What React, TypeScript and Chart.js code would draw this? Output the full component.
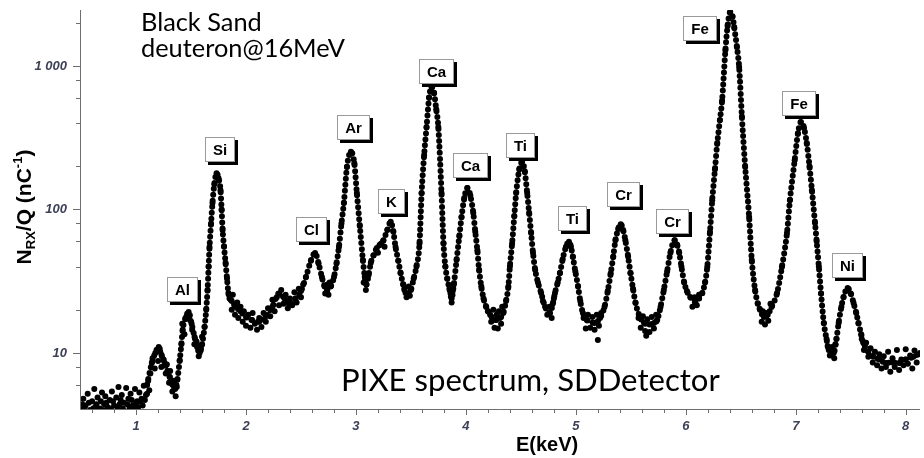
import React, { useEffect, useRef } from 'react';
import { Chart, registerables } from 'chart.js';

Chart.register(...registerables);

// ---- main spectrum trace (E in keV, N/Q in nC^-1) ----
const energy = [
  1.10, 1.143, 1.175, 1.206, 1.235, 1.26, 1.285, 1.306, 1.33, 1.355,
  1.375, 1.397, 1.412, 1.424, 1.45, 1.478, 1.505, 1.532, 1.555, 1.578,
  1.60, 1.623, 1.638, 1.65, 1.66, 1.668, 1.682, 1.695, 1.712, 1.732,
  1.75, 1.768, 1.778, 1.787, 1.80, 1.814, 1.827, 1.84, 1.87, 1.91,
  1.95, 2.0, 2.05, 2.12, 2.18, 2.24, 2.30, 2.35, 2.39, 2.45,
  2.50, 2.545, 2.59, 2.628, 2.66, 2.69, 2.715, 2.737, 2.77, 2.80,
  2.823, 2.845, 2.868, 2.89, 2.918, 2.954, 2.985, 3.008, 3.035, 3.063,
  3.08, 3.095, 3.115, 3.135, 3.16, 3.19, 3.22, 3.25, 3.285, 3.316,
  3.34, 3.36, 3.385, 3.406, 3.43, 3.451, 3.475, 3.50, 3.525, 3.55,
  3.578, 3.597, 3.62, 3.642, 3.665, 3.687, 3.71, 3.73, 3.749, 3.778,
  3.796, 3.813, 3.83, 3.85, 3.87, 3.89, 3.915, 3.94, 3.96, 3.985,
  4.013, 4.04, 4.067, 4.085, 4.104, 4.12, 4.14, 4.16, 4.185, 4.22,
  4.27, 4.31, 4.34, 4.365, 4.386, 4.40, 4.42, 4.44, 4.457, 4.485,
  4.511, 4.535, 4.557, 4.575, 4.593, 4.61, 4.63, 4.655, 4.684, 4.72,
  4.765, 4.79, 4.81, 4.835, 4.855, 4.88, 4.91, 4.937, 4.955, 4.973,
  4.995, 5.02, 5.04, 5.064, 5.10, 5.17, 5.22, 5.26, 5.29, 5.317,
  5.34, 5.36, 5.385, 5.408, 5.43, 5.45, 5.475, 5.497, 5.52, 5.543,
  5.58, 5.62, 5.67, 5.71, 5.74, 5.77, 5.80, 5.83, 5.86, 5.897,
  5.92, 5.94, 5.96, 5.985, 6.01, 6.04, 6.086, 6.12, 6.15, 6.175,
  6.195, 6.22, 6.24, 6.265, 6.286, 6.31, 6.33, 6.36, 6.38, 6.404,
  6.425, 6.44, 6.465, 6.485, 6.51, 6.54, 6.576, 6.60, 6.63, 6.655,
  6.675, 6.71, 6.745, 6.78, 6.83, 6.874, 6.92, 6.947, 6.99, 7.02,
  7.047, 7.075, 7.10, 7.125, 7.147, 7.175, 7.19, 7.21, 7.23, 7.255,
  7.28, 7.30, 7.345, 7.37, 7.39, 7.415, 7.435, 7.472, 7.50, 7.526,
  7.55, 7.57, 7.595, 7.616, 7.66, 7.706, 7.76, 7.82, 7.88, 7.94,
  8.0, 8.07, 8.13,
];
const counts = [
  6.0, 8.5, 10, 11, 9.5, 8.5, 7.5, 6.8, 6.0, 5.6,
  6.5, 8.9, 11.5, 14.5, 17.5, 19.3, 16, 12.9, 11, 10,
  11.5, 15.2, 20, 27.5, 40, 54.7, 80, 111, 150, 179,
  165, 136, 100, 72, 55, 42.5, 33, 26.2, 23, 20.9,
  19.5, 17.8, 17, 16.5, 18, 21, 26, 24, 22, 24,
  27, 33.8, 44, 49.8, 42, 33.8, 29, 27.5, 29, 33.8,
  42, 54.7, 80, 111, 198, 252, 210, 130, 76.6, 44.4,
  34, 30, 35, 42.5, 48, 54, 57, 61, 72, 82,
  70, 54.7, 44, 36, 30, 26.2, 26, 27.5, 33, 40,
  58, 130, 240, 376, 600, 714, 650, 500, 376, 130,
  58, 40, 33, 28, 24, 30, 44.4, 65, 88.5, 120,
  141, 125, 94.5, 70, 52, 38, 29, 24, 20.9, 18.5,
  17, 17.5, 19, 23, 29, 40, 58, 90, 130, 190,
  214, 185, 130, 95, 68.5, 50, 37.9, 31, 26.2, 21,
  19, 22, 26.2, 31, 36, 45, 55, 59.5, 55, 46.6,
  37, 29, 23, 19, 17, 16.2, 17.5, 20.9, 27, 36,
  47, 61, 73, 79, 72, 61, 47, 36, 28, 22.3,
  18, 16.2, 15.8, 16.2, 17, 20.9, 27.5, 37, 50, 61,
  57, 50, 40, 31, 27, 24.6, 22.6, 24, 26.2, 31,
  39.7, 70, 116, 190, 290, 420, 575, 1285, 1900, 2377,
  2200, 1868, 1350, 984, 444, 198, 88.5, 44.4, 27.5, 22,
  20, 17.8, 18.5, 20.9, 26.2, 39.7, 68.5, 116, 220, 340,
  407, 370, 290, 200, 136, 80.5, 60, 40, 26, 16.2,
  12.5, 10.5, 10, 12.5, 16.2, 21, 24.6, 28.4, 26, 22.3,
  19, 16.2, 13.5, 11.7, 10.2, 9.4, 9, 8.5, 8.6, 8.5,
  9, 9.4, 10,
];

// ---- scattered (noisy) channels ----
const noiseEnergy = [
  0.50, 0.52, 0.54, 0.56, 0.58, 0.60, 0.62, 0.63, 0.65, 0.67,
  0.69, 0.71, 0.72, 0.74, 0.76, 0.78, 0.80, 0.82, 0.84, 0.85,
  0.87, 0.89, 0.91, 0.93, 0.95, 0.97, 0.99, 1.01, 1.03, 1.05,
  1.07, 1.09, 1.11, 1.13,
  0.51, 0.53, 0.57, 0.61, 0.64, 0.68, 0.70, 0.73, 0.77, 0.79,
  0.83, 0.86, 0.88, 0.92, 0.94, 0.96, 0.98, 1.00, 1.02, 1.04,
  1.06, 1.08, 1.10, 1.12,
  1.15, 1.17, 1.19, 1.20, 1.22, 1.23, 1.25, 1.27, 1.28, 1.30,
  1.31, 1.33, 1.34, 1.36, 1.37,
  1.42, 1.44, 1.46, 1.49, 1.51, 1.53, 1.55, 1.57, 1.59, 1.60,
  1.85, 1.87, 1.88, 1.90, 1.92, 1.93, 1.95, 1.97, 1.98, 2.00,
  2.02, 2.04, 2.06, 2.08, 2.10, 2.12, 2.14, 2.16, 2.18, 2.20,
  2.22, 2.24, 2.26, 2.28, 2.30, 2.32, 2.34, 2.36, 2.38, 2.40,
  2.42, 2.44, 2.46, 2.48, 2.50, 2.52,
  2.72, 2.74, 2.75, 2.76,
  3.07, 3.09, 3.10,
  3.20, 3.23, 3.26, 3.44, 3.46, 3.48, 3.49,
  3.86, 3.87, 3.88,
  4.20, 4.23, 4.25, 4.26, 4.28, 4.29, 4.30, 4.32, 4.33,
  4.70, 4.74, 4.76, 4.78, 4.80,
  5.07, 5.09, 5.11, 5.13, 5.15, 5.17, 5.19, 5.21, 5.23, 5.20,
  5.57, 5.59, 5.61, 5.63, 5.65, 5.67, 5.69, 5.71, 5.73, 5.64,
  6.06, 6.08, 6.10, 6.12,
  6.69, 6.70, 6.72, 6.73, 6.75, 6.77,
  7.29, 7.31, 7.33, 7.35, 7.36,
  7.60, 7.62, 7.64, 7.66, 7.68, 7.70, 7.72, 7.74, 7.76, 7.78,
  7.80, 7.82, 7.84, 7.86, 7.88, 7.90, 7.92, 7.94, 7.96, 7.98,
  8.00, 8.02, 8.04, 8.06, 8.08, 8.10, 8.12,
];
const noiseCounts = [
  4.1, 4.8, 4.3, 5.2, 4.0, 4.6, 5.6, 4.2, 4.9, 4.1,
  5.3, 4.4, 5.0, 4.2, 4.7, 5.4, 4.3, 4.9, 5.8, 4.4,
  5.1, 4.5, 5.7, 4.8, 5.2, 4.3, 5.6, 4.6, 5.3, 4.8,
  5.9, 5.1, 6.4, 7.2,
  4.4, 4.0, 4.5, 4.1, 4.4, 4.6, 4.0, 4.5, 4.1, 4.6,
  4.2, 4.7, 4.1, 4.4, 4.1, 4.7, 4.2, 4.5, 4.2, 4.6,
  4.3, 4.7, 5.2, 5.5,
  9.2, 7.8, 10.5, 8.8, 10.2, 8.0, 9.0, 7.2, 8.3, 6.2,
  7.5, 5.4, 6.4, 5.0, 5.8,
  16, 13.5, 18, 17, 14.5, 11.5, 12, 9.5, 10.8, 13,
  24, 20, 25.5, 18.5, 22.5, 17.5, 21, 16.5, 19.5, 15.5,
  18.5, 15, 19, 16, 14.5, 17.5, 15.2, 19, 16.5, 20.5,
  18, 23.5, 19.5, 24.5, 21.5, 27.5, 22, 25.5, 20.5, 24,
  21.5, 26.5, 22.5, 28, 24.5, 30,
  26, 30, 25.5, 31,
  31, 27.5, 33,
  50, 58, 55, 28, 24.5, 29, 25,
  26, 22.5, 27,
  19.5, 16.5, 20, 15, 18.5, 14.8, 19.5, 16, 21,
  23, 18.5, 21, 17.5, 24,
  17.5, 14.8, 18.5, 15, 17.8, 14.5, 18.5, 15.5, 19, 12.3,
  17.5, 15, 18, 14.2, 17.2, 14, 17.8, 14.8, 18.5, 13.2,
  21, 24.5, 21.5, 25.5,
  16.5, 19.5, 15.8, 19, 16.8, 22,
  11.2, 9.6, 11, 9.2, 11.5,
  12.5, 10.5, 11.8, 9.4, 10.8, 8.6, 10.2, 8.2, 9.8, 7.8,
  9.5, 8.0, 10.2, 7.4, 9.2, 8.0, 10.5, 7.6, 9.0, 8.2,
  10.6, 8.4, 9.6, 7.8, 10.4, 8.6, 9.8,
];

// ---- element labels (box centre in data units) ----
const peakNames = ['Al', 'Si', 'Cl', 'Ar', 'K', 'Ca', 'Ca', 'Ti', 'Ti', 'Cr', 'Cr', 'Fe', 'Fe', 'Ni'];
const peakLabelE = [1.424, 1.759, 2.592, 2.981, 3.325, 3.733, 4.041, 4.494, 4.973, 5.435, 5.879, 6.132, 7.028, 7.471];
const peakLabelY = [27.5, 260, 73, 370, 113, 908, 201, 281, 86, 128, 82, 1811, 552, 40.4];

// ---- axes ----
const xMajorTicks = [1, 2, 3, 4, 5, 6, 7, 8];
const xMinorTicks = [0.6, 0.8, 1.2, 1.4, 1.6, 1.8, 2.2, 2.4, 2.6, 2.8, 3.2, 3.4, 3.6, 3.8, 4.2, 4.4, 4.6, 4.8,
  5.2, 5.4, 5.6, 5.8, 6.2, 6.4, 6.6, 6.8, 7.2, 7.4, 7.6, 7.8];
const yMajorTicks = [10, 100, 1000];
const yMinorTicks = [6, 8, 20, 40, 60, 80, 200, 400, 600, 800, 2000];
const xRange = [0.49, 8.13];
const yRange = [4.07, 2455];

const SANS = '"Liberation Sans", Arial, sans-serif';
const AXIS_COLOR = '#6e6e6e';

const overlay = {
  id: 'overlay',
  afterDraw(chart: any) {
    const ctx: CanvasRenderingContext2D = chart.ctx;
    const xs = chart.scales.x;
    const ys = chart.scales.y;
    const a = chart.chartArea;
    ctx.save();

    // axis lines + tick marks
    ctx.strokeStyle = AXIS_COLOR;
    ctx.lineWidth = 1;
    ctx.beginPath();
    ctx.moveTo(a.left + 0.5, a.top);
    ctx.lineTo(a.left + 0.5, a.bottom + 0.5);
    ctx.lineTo(a.right, a.bottom + 0.5);
    for (const v of xMajorTicks) {
      const p = Math.round(xs.getPixelForValue(v)) + 0.5;
      ctx.moveTo(p, a.bottom); ctx.lineTo(p, a.bottom + 6);
    }
    for (const v of xMinorTicks) {
      const p = Math.round(xs.getPixelForValue(v)) + 0.5;
      ctx.moveTo(p, a.bottom); ctx.lineTo(p, a.bottom + 4);
    }
    for (const v of yMajorTicks) {
      const p = Math.round(ys.getPixelForValue(v)) + 0.5;
      ctx.moveTo(a.left, p); ctx.lineTo(a.left - 7, p);
    }
    for (const v of yMinorTicks) {
      const p = Math.round(ys.getPixelForValue(v)) + 0.5;
      ctx.moveTo(a.left, p); ctx.lineTo(a.left - 4, p);
    }
    ctx.stroke();

    // element label boxes
    ctx.font = `bold 15px ${SANS}`;
    ctx.textAlign = 'center';
    ctx.textBaseline = 'middle';
    peakNames.forEach((name, i) => {
      const cx = xs.getPixelForValue(peakLabelE[i]);
      const cy = ys.getPixelForValue(peakLabelY[i]);
      const w = Math.round(ctx.measureText(name).width + 16);
      const h = 25;
      const l = Math.round(cx - w / 2);
      const t = Math.round(cy - h / 2);
      ctx.fillStyle = '#000';
      ctx.fillRect(l + 3, t + 3, w, h);
      ctx.fillStyle = '#fff';
      ctx.fillRect(l, t, w, h);
      ctx.strokeStyle = '#9a9a9a';
      ctx.strokeRect(l + 0.5, t + 0.5, w - 1, h - 1);
      ctx.fillStyle = '#000';
      ctx.fillText(name, l + w / 2, t + h / 2 + 1);
    });

    // x title
    ctx.fillStyle = '#000';
    ctx.font = `bold 20px ${SANS}`;
    ctx.textAlign = 'center';
    ctx.textBaseline = 'middle';
    ctx.fillText('E(keV)', a.left + (a.right - a.left) * 0.556, a.bottom + 36);

    // y title with sub/superscript
    const parts = [
      { t: 'N', s: 21, dy: 0 },
      { t: 'RX', s: 13, dy: 4 },
      { t: '/Q (nC', s: 21, dy: 0 },
      { t: '-1', s: 13, dy: -9 },
      { t: ')', s: 21, dy: 0 },
    ];
    let total = 0;
    const widths = parts.map((p) => {
      ctx.font = `bold ${p.s}px ${SANS}`;
      const w = ctx.measureText(p.t).width;
      total += w;
      return w;
    });
    ctx.save();
    ctx.translate(24, 207);
    ctx.rotate(-Math.PI / 2);
    ctx.textAlign = 'left';
    ctx.textBaseline = 'alphabetic';
    let x = -total / 2;
    parts.forEach((p, i) => {
      ctx.font = `bold ${p.s}px ${SANS}`;
      ctx.fillText(p.t, x, 7 + p.dy);
      x += widths[i];
    });
    ctx.restore();

    // annotations
    const fam = 'Lato, "Open Sans", sans-serif';
    ctx.textAlign = 'left';
    ctx.textBaseline = 'alphabetic';
    ctx.font = `100px ${fam}`;
    const s1 = (100 * 204) / ctx.measureText('deuteron@16MeV').width;
    ctx.font = `${s1}px ${fam}`;
    ctx.fillText('Black Sand', a.left + 61, 31);
    ctx.fillText('deuteron@16MeV', a.left + 61, 57);
    ctx.font = `100px ${fam}`;
    const s2 = (100 * 379) / ctx.measureText('PIXE spectrum, SDDetector').width;
    ctx.font = `${s2}px ${fam}`;
    ctx.fillText('PIXE spectrum, SDDetector', a.left + 261, 391);

    ctx.restore();
  },
};

export default function App() {
  const ref = useRef<HTMLCanvasElement>(null);
  useEffect(() => {
    const curve = energy.map((e, i) => ({ x: e, y: counts[i] }));
    const noise = noiseEnergy.map((e, i) => ({ x: e, y: noiseCounts[i] }));
    const tickFont = { family: SANS, size: 13, weight: 'bold' as const, style: 'italic' as const };
    const chart = new Chart(ref.current as HTMLCanvasElement, {
      type: 'scatter',
      data: {
        datasets: [
          {
            data: noise,
            showLine: false,
            pointRadius: 3,
            pointBackgroundColor: '#000',
            pointBorderWidth: 0,
          },
          {
            data: curve,
            showLine: true,
            borderColor: '#000',
            borderWidth: 6,
            borderDash: [0, 6],
            borderCapStyle: 'round',
            cubicInterpolationMode: 'monotone',
            pointRadius: 3,
            pointBackgroundColor: '#000',
            pointBorderWidth: 0,
          } as any,
        ],
      },
      options: {
        animation: false,
        responsive: true,
        maintainAspectRatio: false,
        events: [],
        layout: { padding: { top: 10, right: 0, left: 0, bottom: 0 } },
        plugins: { legend: { display: false }, tooltip: { enabled: false } },
        scales: {
          x: {
            type: 'linear',
            min: xRange[0],
            max: xRange[1],
            grid: { display: false, drawTicks: false },
            border: { display: false },
            afterBuildTicks: (s: any) => { s.ticks = xMajorTicks.map((v) => ({ value: v })); },
            afterFit: (s: any) => { s.height = 49; s.paddingLeft = 0; s.paddingRight = 0; },
            ticks: { autoSkip: false, maxRotation: 0, padding: 10, color: '#3d4157', font: tickFont },
          },
          y: {
            type: 'logarithmic',
            min: yRange[0],
            max: yRange[1],
            grid: { display: false, drawTicks: false },
            border: { display: false },
            afterBuildTicks: (s: any) => { s.ticks = yMajorTicks.map((v) => ({ value: v })); },
            afterFit: (s: any) => { s.width = 80; s.paddingTop = 0; s.paddingBottom = 0; },
            ticks: {
              autoSkip: false,
              padding: 13,
              color: '#3d4157',
              font: tickFont,
              callback: (v: any) => (Number(v) === 1000 ? '1 000' : String(v)),
            },
          },
        },
      },
      plugins: [overlay],
    });
    return () => chart.destroy();
  }, []);
  return (
    <div style={{ position: 'absolute', left: 0, top: 0, width: 924, height: 458, background: '#fff' }}>
      <canvas ref={ref} />
    </div>
  );
}
